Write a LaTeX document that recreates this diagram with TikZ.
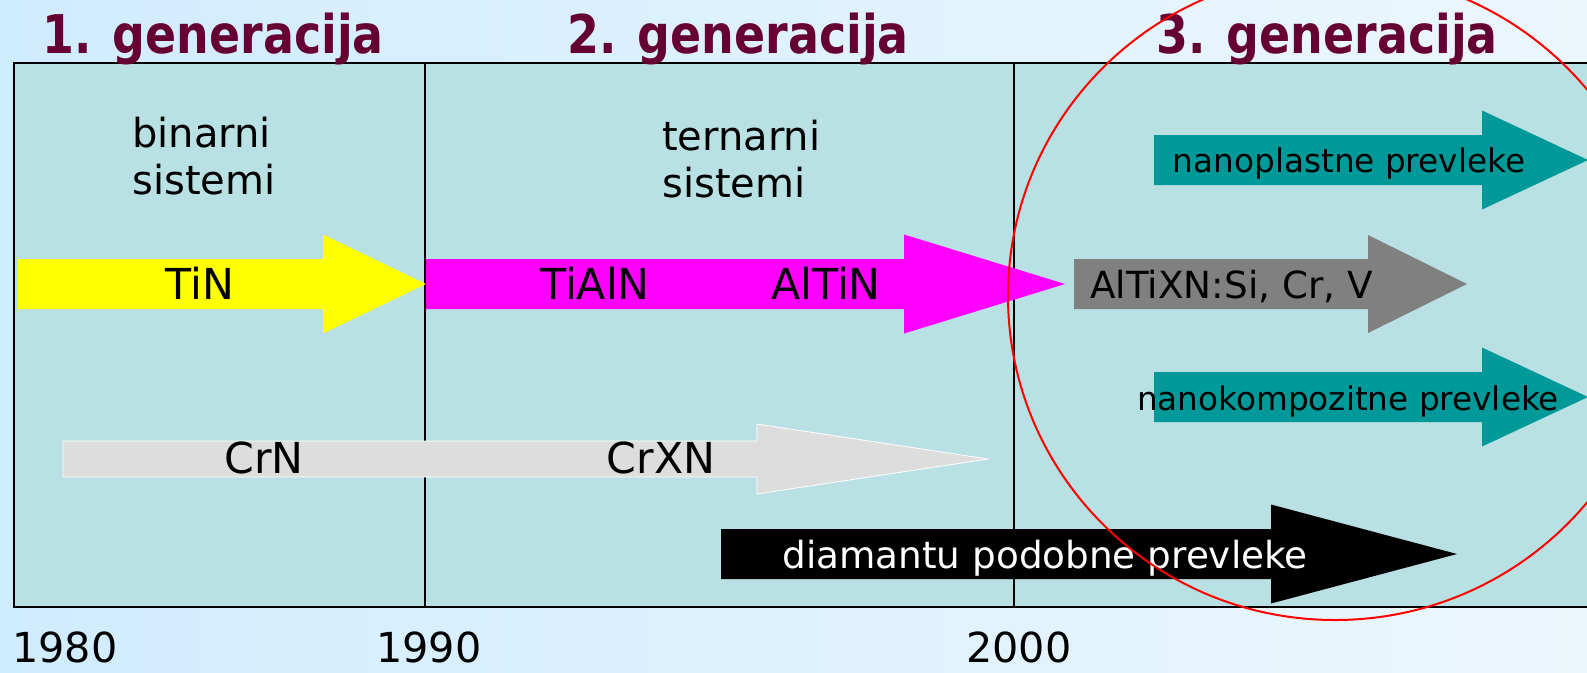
\documentclass[tikz,border=0pt]{standalone}
\usepackage{fontspec}
\setmainfont{DejaVu Sans}
\newfontfamily\titlefont[FakeStretch=0.86]{DejaVu Sans}
\usetikzlibrary{calc}
\definecolor{bgleft}{RGB}{208,236,255}
\definecolor{bgright}{RGB}{236,247,252}
\definecolor{panel}{RGB}{185,224,227}
\definecolor{maroon}{RGB}{102,0,51}
\definecolor{tinyellow}{RGB}{255,255,0}
\definecolor{magentaA}{RGB}{255,0,255}
\definecolor{grayA}{RGB}{128,128,128}
\definecolor{tealA}{RGB}{0,153,153}
\definecolor{lightA}{RGB}{221,221,221}
\newcommand\blockarrow[7]{% style, x0, xhead, xtip, ymid, bodyhalf, headhalf
  \path[#1] (#2,#5-#6) -- (#3,#5-#6) -- (#3,#5-#7) -- (#4,#5) -- (#3,#5+#7) -- (#3,#5+#6) -- (#2,#5+#6) -- cycle;}
\tikzset{
  title/.style={font=\titlefont\bfseries\fontsize{40}{48}\selectfont, text=maroon, inner sep=0, anchor=base},
  year/.style={font=\fontsize{31}{38}\selectfont, inner sep=0, anchor=base west},
  lbl/.style={font=\fontsize{32}{38}\selectfont, inner sep=0, anchor=base},
  sys/.style={font=\fontsize{30}{35.25}\selectfont, inner sep=0, anchor=base west, align=left},
  small/.style={font=\fontsize{24.5}{30}\selectfont, inner sep=0, anchor=base},
}
\begin{document}
\begin{tikzpicture}[x=0.75pt,y=-0.75pt]
\useasboundingbox (0,0) rectangle (1587,672);
\clip (0,0) rectangle (1587,672);
\shade[left color=bgleft, right color=bgright] (0,0) rectangle (1587,672);
% panel
\fill[panel] (14,63) rectangle (1620,607);
\draw[line width=1.2pt] (1620,63) -- (14,63) -- (14,607) -- (1620,607);
\draw[line width=1pt] (425,63) -- (425,607);
\draw[line width=1pt] (1014,63) -- (1014,607);
% titles
\node[title] (g1) at (213,53) {1. generacija};
\node[title] (g2) at (738,53) {2. generacija};
\node[title] (g3) at (1327,53) {3. generacija};
% years
\node[year] (y1980) at (12,662) {1980};
\node[year] (y1990) at (376,662) {1990};
\node[year] (y2000) at (966,662) {2000};
% system labels
\node[sys] (bin) at (132,194) {binarni\\sistemi};
\node[sys] (ter) at (662,197) {ternarni\\sistemi};
% arrows
\blockarrow{fill=lightA, draw=white, line width=0.6pt}{63}{757}{988}{459}{18}{35}
\blockarrow{fill=tinyellow}{18}{323}{426}{284}{25}{49.5}
\blockarrow{fill=magentaA}{426}{904}{1065}{284}{25}{49.5}
\blockarrow{fill=grayA}{1074}{1368}{1467}{284}{25}{49}
\blockarrow{fill=tealA}{1154}{1482}{1588}{160}{25}{49.5}
\blockarrow{fill=tealA}{1154}{1482}{1588}{397}{25}{49.5}
\blockarrow{fill=black}{721}{1271}{1457}{554}{25}{49.5}
% arrow labels
\node[lbl] (tin) at (200,299) {TiN};
\node[lbl] (tialn) at (595,299) {TiAlN};
\node[lbl] (altin) at (826,299) {AlTiN};
\node[lbl, anchor=base west, font=\fontsize{28}{34}\selectfont] (altixn) at (1090,298) {AlTiXN:Si, Cr, V};
\node[small] (nanopl) at (1349,172) {nanoplastne prevleke};
\node[small] (nanokomp) at (1348,410) {nanokompozitne prevleke};
\node[lbl] (crn) at (264,473) {CrN};
\node[lbl] (crxn) at (661,473) {CrXN};
\node[lbl, text=white, font=\fontsize{28}{34}\selectfont] (dlc) at (1045,568) {diamantu podobne prevleke};
% red ellipse
\draw[red, line width=1.5pt] (1335,296) ellipse [x radius=327, y radius=324];
\end{tikzpicture}
\end{document}
